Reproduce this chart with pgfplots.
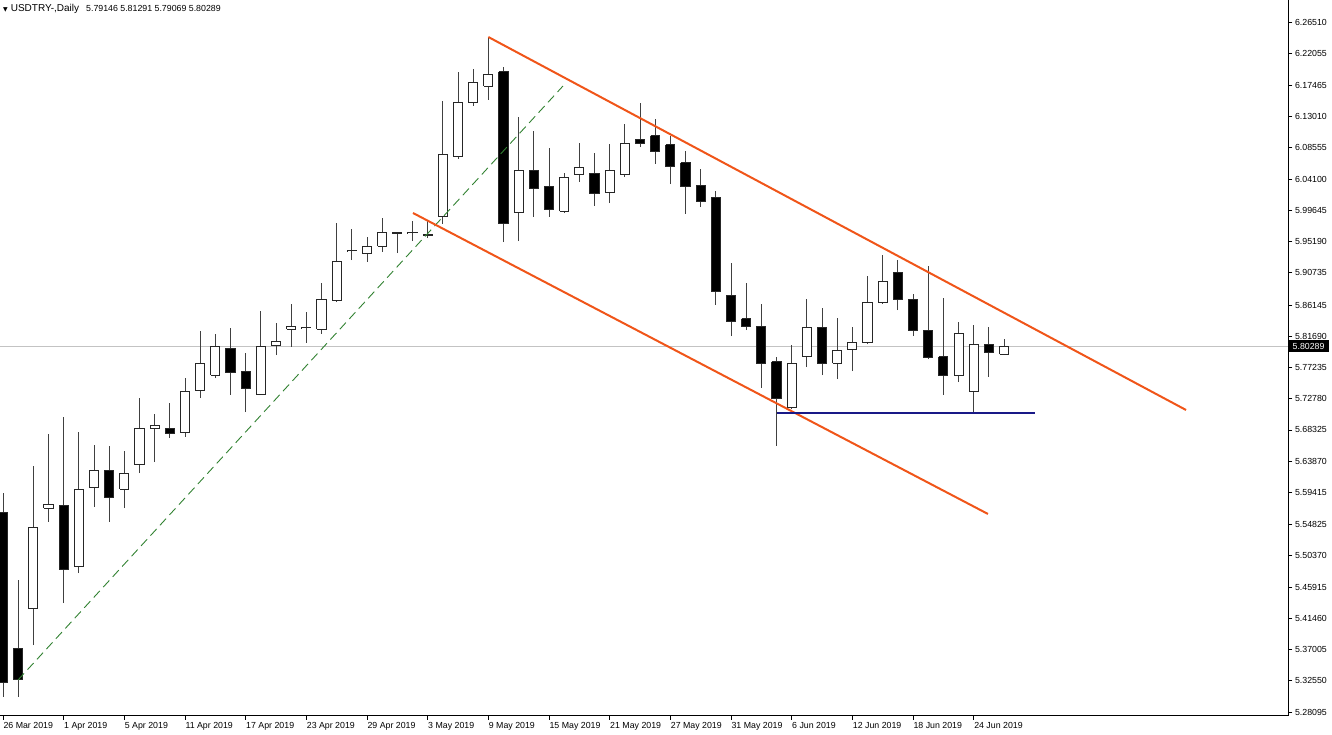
\documentclass[border=0pt]{standalone}
\usepackage{fontspec}
\setmainfont{Liberation Sans}
\newfontfamily\dejavu{DejaVu Sans}
\usepackage{pgfplots}
\usepackage{pgfplotstable}
\pgfplotsset{compat=1.18}
\definecolor{chorange}{RGB}{240,85,25}
\definecolor{chblue}{RGB}{25,25,135}
\definecolor{chgreen}{RGB}{50,130,50}
\definecolor{chgray}{RGB}{195,195,195}

\pgfplotstableread{
i o h l c
0 5.5648 5.5933 5.3024 5.3237
1 5.3722 5.4692 5.3024 5.3280
2 5.4279 5.6318 5.3765 5.5434
3 5.5719 5.6775 5.5520 5.5776
4 5.5762 5.7017 5.4364 5.4849
5 5.4892 5.6803 5.4792 5.5976
6 5.6005 5.6618 5.5734 5.6247
7 5.6261 5.6604 5.5520 5.5876
8 5.5990 5.6532 5.5719 5.6218
9 5.6333 5.7288 5.6218 5.6860
10 5.6860 5.7060 5.6375 5.6889
11 5.6860 5.7217 5.6718 5.6775
12 5.6789 5.7573 5.6732 5.7374
13 5.7388 5.8244 5.7288 5.7787
14 5.7616 5.8201 5.7573 5.8016
15 5.8001 5.8287 5.7331 5.7645
16 5.7659 5.7930 5.7088 5.7417
17 5.7345 5.8529 5.7345 5.8016
18 5.8044 5.8358 5.7901 5.8087
19 5.8272 5.8629 5.8016 5.8301
20 5.8287 5.8515 5.8073 5.8288
21 5.8272 5.8928 5.8201 5.8700
22 5.8672 5.9784 5.8657 5.9242
23 5.9385 5.9699 5.9256 5.9386
24 5.9342 5.9585 5.9228 5.9442
25 5.9456 5.9856 5.9371 5.9642
26 5.9640 5.9645 5.9356 5.9642
27 5.9642 5.9813 5.9527 5.9643
28 5.9613 5.9813 5.9570 5.9599
29 5.9870 6.1524 5.9770 6.0768
30 6.0726 6.1938 6.0697 6.1496
31 6.1496 6.1981 6.1453 6.1781
32 6.1738 6.2437 6.1539 6.1909
33 6.1938 6.2009 5.9513 5.9770
34 5.9941 6.1296 5.9527 6.0540
35 6.0540 6.1096 5.9870 6.0283
36 6.0298 6.0854 5.9870 5.9970
37 5.9955 6.0497 5.9927 6.0426
38 6.0469 6.0925 6.0369 6.0569
39 6.0497 6.0783 6.0027 6.0212
40 6.0226 6.0911 6.0069 6.0526
41 6.0469 6.1196 6.0440 6.0925
42 6.0982 6.1496 6.0868 6.0925
43 6.1025 6.1268 6.0626 6.0797
44 6.0897 6.1025 6.0340 6.0583
45 6.0640 6.0811 5.9913 6.0298
46 6.0312 6.0554 6.0012 6.0084
47 6.0141 6.0241 5.8615 5.8800
48 5.8743 5.9214 5.8172 5.8386
49 5.8415 5.8928 5.8258 5.8301
50 5.8315 5.8629 5.7431 5.7787
51 5.7802 5.7873 5.6604 5.7288
52 5.7146 5.8044 5.7131 5.7787
53 5.7887 5.8700 5.7730 5.8287
54 5.8287 5.8572 5.7616 5.7787
55 5.7787 5.8429 5.7559 5.7959
56 5.7973 5.8301 5.7673 5.8073
57 5.8073 5.9028 5.8058 5.8657
58 5.8657 5.9328 5.8629 5.8943
59 5.9071 5.9256 5.8543 5.8700
60 5.8700 5.8772 5.8172 5.8244
61 5.8258 5.9171 5.7844 5.7859
62 5.7873 5.8714 5.7331 5.7602
63 5.7616 5.8372 5.7516 5.8201
64 5.7374 5.8329 5.7074 5.8058
65 5.8058 5.8301 5.7588 5.7930
66 5.79146 5.81291 5.79069 5.80289
}\candles

\begin{document}
\begin{tikzpicture}
\useasboundingbox (0,0) rectangle (1332pt,734pt);
\begin{axis}[
  at={(0pt,19pt)}, anchor=south west,
  scale only axis, width=1288pt, height=715pt,
  xmin=-0.198, xmax=84.72, ymin=5.27668, ymax=6.29648,
  axis line style={draw=none},
  tick align=outside,
  xtick pos=bottom, ytick pos=right, yticklabel pos=right,
  major tick length=4.5pt,
  tick style={black, line width=0.8pt},
  xtick={0,4,...,64},
  xticklabels={26 Mar 2019,1 Apr 2019,5 Apr 2019,11 Apr 2019,17 Apr 2019,23 Apr 2019,29 Apr 2019,3 May 2019,9 May 2019,15 May 2019,21 May 2019,27 May 2019,31 May 2019,6 Jun 2019,12 Jun 2019,18 Jun 2019,24 Jun 2019},
  xticklabel style={anchor=north west, font=\fontsize{8.8}{9}\selectfont, xshift=-3pt, yshift=1pt},
  ytick={5.28095,5.32550,5.37005,5.41460,5.45915,5.50370,5.54825,5.59415,5.63870,5.68325,5.72780,5.77235,5.81690,5.86145,5.90735,5.95190,5.99645,6.04100,6.08555,6.13010,6.17465,6.22055,6.26510},
  yticklabels={5.28095,5.32550,5.37005,5.41460,5.45915,5.50370,5.54825,5.59415,5.63870,5.68325,5.72780,5.77235,5.81690,5.86145,5.90735,5.95190,5.99645,6.04100,6.08555,6.13010,6.17465,6.22055,6.26510},
  yticklabel style={anchor=west, font=\fontsize{8.8}{9}\selectfont, xshift=-1pt},
  clip=true,
  wick/.style={black!75, line width=1pt},
  body/.style={draw=black!85, line width=1pt},
]
\addplot[chgray, line width=0.8pt] coordinates {(-0.198,5.80289) (84.72,5.80289)};
\pgfplotsforeachungrouped \k in {0,...,66}{%
  \pgfplotstablegetelem{\k}{o}\of\candles \let\vo\pgfplotsretval
  \pgfplotstablegetelem{\k}{h}\of\candles \let\vh\pgfplotsretval
  \pgfplotstablegetelem{\k}{l}\of\candles \let\vl\pgfplotsretval
  \pgfplotstablegetelem{\k}{c}\of\candles \let\vc\pgfplotsretval
  \pgfmathsetmacro\xa{\k-0.3}%
  \pgfmathsetmacro\xb{\k+0.3}%
  \ifdim\vc pt<\vo pt \def\bfill{black}\else\def\bfill{white}\fi
  \edef\cmd{%
    \noexpand\addplot[wick] coordinates {(\k,\vl) (\k,\vh)};
    \noexpand\addplot[body, fill=\bfill] coordinates {(\xa,\vo) (\xb,\vo) (\xb,\vc) (\xa,\vc) (\xa,\vo)};
  }\cmd
}
% trend lines
\addplot[chgreen, line width=0.9pt, dash pattern=on 9pt off 5pt] coordinates {(0.99,5.3266) (36.92,6.1738)};
\addplot[chorange, line width=2pt] coordinates {(32,6.2437) (78.0,5.7117)};
\addplot[chorange, line width=2pt] coordinates {(27.03,5.9927) (64.94,5.5634)};
\addplot[chblue, line width=1.8pt] coordinates {(51.03,5.7074) (68.04,5.7074)};
\coordinate (pb) at (axis cs:84.72,5.80289);
\end{axis}
\draw[black, line width=0.9pt] (0pt,19pt) -- (1288pt,19pt) -- (1288pt,734pt);
\node[anchor=west, fill=black, text=white, inner xsep=4pt, inner ysep=2.5pt, font=\fontsize{8.8}{9}\selectfont] at ([xshift=0.5pt]pb) {5.80289};
\node[anchor=west, inner sep=0pt] at (3pt,725pt) {{\dejavu\fontsize{6}{7}\selectfont ▼}\hspace{3pt}{\fontsize{10}{11}\selectfont USDTRY-,Daily}\hspace{7pt}\fontsize{8.8}{9}\selectfont 5.79146 5.81291 5.79069 5.80289};
\end{tikzpicture}
\end{document}
